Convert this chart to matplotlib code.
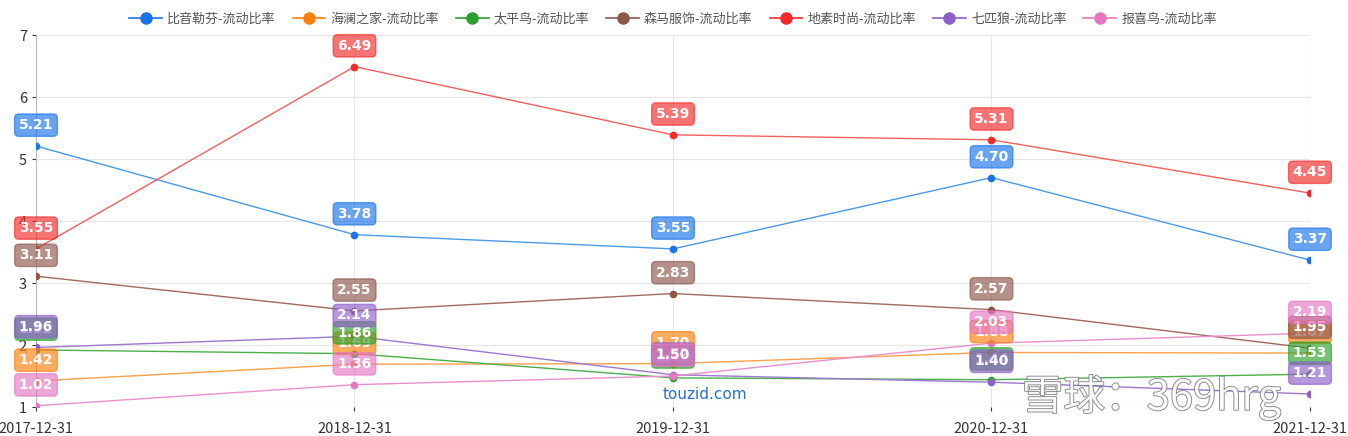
import matplotlib.pyplot as plt
import matplotlib.patheffects as pe

plt.rcParams['font.family'] = ['Noto Sans CJK SC', 'DejaVu Sans']

dates = ['2017-12-31', '2018-12-31', '2019-12-31', '2020-12-31', '2021-12-31']

names = ['比音勒芬-流动比率', '海澜之家-流动比率', '太平鸟-流动比率', '森马服饰-流动比率',
         '地素时尚-流动比率', '七匹狼-流动比率', '报喜鸟-流动比率']

biyinlefen = [5.21, 3.78, 3.55, 4.70, 3.37]
hailan = [1.42, 1.69, 1.70, 1.88, 1.87]
taipingniao = [1.92, 1.86, 1.47, 1.44, 1.53]
senma = [3.11, 2.55, 2.83, 2.57, 1.95]
disu = [3.55, 6.49, 5.39, 5.31, 4.45]
qipilang = [1.96, 2.14, 1.52, 1.40, 1.21]
baoxiniao = [1.02, 1.36, 1.50, 2.03, 2.19]

series = [biyinlefen, hailan, taipingniao, senma, disu, qipilang, baoxiniao]
colors = ['#1a73e8', '#ff7f0e', '#2ca02c', '#8c564b', '#f22a2a', '#8e5fc8', '#e377c2']
line_colors = ['#4a9ae6', '#ffa04a', '#4caf4c', '#a06a5e', '#f26060', '#9c77cf', '#e890cf']

fig = plt.figure(figsize=(13.48, 4.36), dpi=100)
ax = fig.add_axes([0.0267, 0.0665, 0.9451, 0.8532])

x = list(range(len(dates)))
for i, (vals, name) in enumerate(zip(series, names)):
    ax.plot(x, vals, color=line_colors[i], lw=1.0, zorder=2)
    ax.plot(x, vals, 'o', color=colors[i], ms=4.5, zorder=3,
            markeredgecolor=colors[i])
    for xi, v in zip(x, vals):
        ax.annotate('%.2f' % v, (xi, v), xytext=(0, 15), textcoords='offset points',
                    ha='center', va='center', color='white', fontsize=10,
                    fontweight='bold', family='DejaVu Sans', zorder=5 + i,
                    annotation_clip=False,
                    bbox=dict(boxstyle='round,pad=0.3', fc=colors[i], ec=colors[i],
                              alpha=0.65, lw=1))

# legend drawn with line + marker like the original
handles = []
for i, name in enumerate(names):
    h, = ax.plot([], [], '-o', color=colors[i], ms=8, lw=1.2)
    handles.append(h)
ax.legend(handles, names, loc='lower center', bbox_to_anchor=(0.5, 1.0), ncol=7,
          frameon=False, fontsize=9.4, labelcolor='#555555', handlelength=2.5,
          columnspacing=1.3, handletextpad=0.4, borderaxespad=0.3)

ax.set_xlim(0, 4)
ax.set_ylim(1, 7)
ax.set_xticks(x)
ax.set_xticklabels(dates)
ax.set_yticks(range(1, 8))
ax.grid(True, color='#e6e6e6', lw=0.8)
ax.set_axisbelow(True)
for s in ['top', 'right', 'bottom']:
    ax.spines[s].set_visible(False)
ax.spines['left'].set_color('#bbbbbb')
ax.tick_params(axis='both', colors='#333333', labelsize=10.5, length=3)
ax.tick_params(axis='x', pad=8)

# watermarks
fig.text(0.523, 0.085, 'touzid.com', color='#2a6fd0', fontsize=11, ha='center',
         family='DejaVu Sans')
fig.text(0.758, 0.06, '雪球：369hrg', color='white', fontsize=30, alpha=0.9,
         path_effects=[pe.withStroke(linewidth=1.2, foreground='#777777')])

fig.savefig('out.png', dpi=100)
